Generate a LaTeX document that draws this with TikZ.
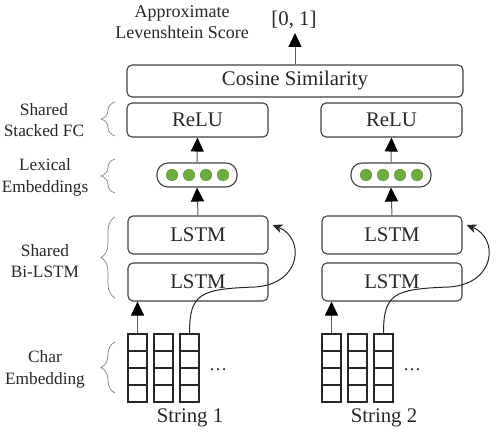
\documentclass[tikz,border=0pt]{standalone}
\usepackage{fontspec}
\setmainfont{Liberation Serif}
\usetikzlibrary{arrows.meta,decorations.pathreplacing}
\definecolor{dotgreen}{HTML}{6AAE3C}
\definecolor{edge}{HTML}{404040}
\begin{document}
\begin{tikzpicture}[x=1pt,y=-1pt,
  box/.style={draw=edge, line width=1.1pt, rounded corners=5pt, inner sep=0pt,
    font=\fontsize{20.8}{24}\selectfont, text=black!85},
  pill/.style={draw=edge, line width=1.1pt, rounded corners=11pt, inner sep=0pt,
    minimum width=80pt, minimum height=24pt},
  gdot/.style={circle, fill=dotgreen, draw=dotgreen!80!black, line width=0.4pt,
    minimum size=11.5pt, inner sep=0pt},
  cell/.style={draw=black!85, line width=1.2pt, minimum width=19pt, minimum height=17pt, inner sep=0pt},
  arr/.style={draw=black!65, line width=1pt, -{Triangle[length=14pt,width=13pt,black]}},
  curv/.style={draw=black!85, line width=1pt, -{Stealth[length=10pt,width=9pt,inset=3pt]}},
  side/.style={align=center, font=\fontsize{17.3}{21.5}\selectfont, text=black!85},
  lbl/.style={font=\fontsize{20.8}{24}\selectfont, text=black!85},
  brc/.style={draw=black!50, line width=0.7pt, decorate, decoration={brace, amplitude=14pt}},
]
\useasboundingbox (0,0) rectangle (498,435);

% top
\node[box, minimum width=336pt, minimum height=32pt] (cos) at (295,81) {Cosine Similarity};
\node[lbl] (score) at (294,20) {[0, 1]};
\node[side, font=\fontsize{18}{21.5}\selectfont] (approx) at (182,22) {Approximate\\Levenshtein Score};
\coordinate (out) at (295,33);
\draw[arr] (cos.north) -- (out);

\foreach \s/\dx in {1/0, 2/194}{
  \node[box, minimum width=141pt, minimum height=34pt] (relu\s) at (197.5+\dx,120) {ReLU};
  \node[pill] (pill\s) at (197+\dx,175) {};
  \foreach \k/\px in {1/173,2/190,3/207,4/224}{
    \node[gdot] (d\s\k) at (\px+\dx-1,175) {};
  }
  \node[box, minimum width=140pt, minimum height=38pt] (lt\s) at (198+\dx,235) {LSTM};
  \node[box, minimum width=140pt, minimum height=38pt] (lb\s) at (198+\dx,282) {LSTM};
  \foreach \c/\cx in {1/137.5,2/163.5,3/189.5}{
    \foreach \r in {1,2,3,4}{
      \node[cell] (c\s\c\r) at (\cx+\dx,325.5+17*\r) {};
    }
  }
  \node[lbl, font=\fontsize{18}{20}\selectfont] (dots\s) at (218+\dx,370) {\dots};
  \node[lbl] (str\s) at (190+\dx,418) {String \s};
  \draw[arr] (pill\s.north) -- (relu\s.south);
  \draw[arr] (lt\s.north) -- (pill\s.south);
  \draw[arr] (c\s11.north) -- (c\s11.north |- lb\s.south);
  \draw[curv] (c\s31.north) .. controls +(0,-40) and (200+\dx,289) .. (255+\dx,287)
     .. controls (302+\dx,284) and (305+\dx,238) .. ([shift={(4,-10)}]lt\s.east);
}

% side labels
\node[side] (lfc) at (44,120) {Shared\\Stacked FC};
\node[side] (llex) at (45,177.5) {Lexical\\Embeddings};
\node[side] (lbi) at (45,261) {Shared\\Bi-LSTM};
\node[side] (lch) at (45,369.5) {Char\\Embedding};
\draw[brc] (115,136) -- (115,102);
\draw[brc] (115,193) -- (115,159);
\draw[brc] (115,298) -- (115,217);
\draw[brc] (115,393) -- (115,342);
\end{tikzpicture}
\end{document}
